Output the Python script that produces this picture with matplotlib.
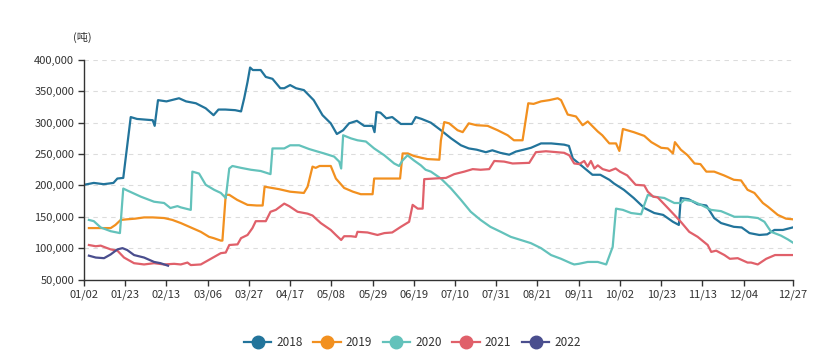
import matplotlib
matplotlib.use("Agg")
import matplotlib.pyplot as plt
from matplotlib.lines import Line2D

plt.rcParams['font.family'] = ['Noto Sans CJK SC', 'DejaVu Sans']

# x = days since 01/02 (category position), values in thousand tonnes
s2018 = [(0,201),(5,204),(10,202),(15,204),(17,211),(20,212),(23.8,309),(27,306),(31,305),
         (35,304),(36,295),(37.7,336),(42,334),(48.4,339),(52,334),(57,331),(62,323),(66,312),
         (68.5,321),(72,321),(77,320),(80,318),(81.6,339),(83.3,365),(84.6,388),(86,384),(90,384),
         (92.6,373),(96,370),(100,355),(102,355),(105,360),(108,355),(112,352),(117,336),
         (121.5,312),(125.7,299),(128.8,282),(132,288),(135,299),(139,303),(142.7,295),(147,295),
         (148,285),(149,317),(151,316),(154,307),(157,309),(161.4,298),(167,298),(169,309),
         (172,306),(176.7,300),(181.8,288),(187,275),(192,264),(196,259),(200,257),(204.7,253),
         (208,256),(212,252),(216.6,249),(220,254),(224,257),(227.7,260),(232.8,267),(238,267),
         (244.6,265),(247,263),(249,243),(254,230),(259,217),(263,217),(267.6,209),(270,203),
         (275,193),(280,180),(285.4,164),(290.5,156),(295,153),(300,142),(303,137),(304,180),
         (308,178),(312.6,170),(317,168),(321,148),(324.5,140),(331,134),(335,133),(339,124),
         (344,121),(348,122),(351.7,129),(356,129),(361,133)]

s2019 = [(2.5,132),(8,132),(13.6,132),(16,137),(18.7,145),(22,146),(26,147),(30.6,149),(35,149),
         (40.8,148),(45,145),(49.3,140),(54.4,133),(59.5,126),(63.7,118),(66,116),(69.7,112),
         (70.5,112),(72.2,185),(74,185),(78,177),(83.3,169),(88,168),(91,168),(92,198),(99.4,194),
         (105,190),(112,188),(113.9,198),(116.4,230),(118,228),(120,231),(125.7,231),(128.3,211),
         (132.5,196),(137,190),(141,186),(147,186),(147.8,211),(154,211),(161,211),(162.3,251),
         (165,251),(168,247),(172,244),(175,242),(181,241),(181.8,272),(183.5,301),(186,299),
         (190.3,288),(192.9,285),(196,299),(200,296),(205.6,295),(210.7,288),(215.8,280),(219,272),
         (223.4,272),(226.3,331),(229,330),(232.8,334),(237,336),(241.3,339),(243,336),
         (246.4,313),(250.6,310),(254,296),(256.6,302),(261.7,286),(264,280),(267.6,267),
         (271,267),(272.7,255),(274.5,290),(280,285),(285.4,279),(289,269),(294,260),(297.4,259),
         (300,251),(301,269),(304,257),(307.5,248),(311,235),(314,234),(317,222),(321,222),
         (326,216),(331,209),(334.7,208),(338,193),(341.5,188),(345.8,172),(348.4,166),
         (353.4,153),(357.6,147),(361,146)]

s2020 = [(2.5,145),(5,143),(8.5,133),(13.6,127),(18.3,124),(20,195),(22,192),(29,182),(35.7,174),
         (40.8,172),(44,164),(47.6,167),(49.3,165),(54.4,161),(55.2,222),(58.6,219),(62,201),
         (66.3,193),(69.7,188),(72.2,180),(74,227),(75.6,231),(80,228),(85,225),(90,223),(95,218),
         (96,259),(102,259),(105,264),(109.6,264),(114.7,258),(119,254),(122.3,251),(127.4,246),
         (130,238),(131,227),(132,280),(136,275),(139.3,272),(143.6,270),(147.8,259),(153,248),
         (158,235),(160.5,231),(162.3,240),(164.8,248),(168,240),(171.6,232),(174,225),
         (176.7,222),(181.8,211),(187,195),(192,177),(197,158),(202,145),(207,134),(212.3,126),
         (217.4,118),(222.5,113),(227.6,108),(232.8,100),(237.9,89),(243,83),(248,76),(249.7,74),
         (252,75),(256.6,78),(261.7,78),(266,74),(269.3,102),(271,163),(274.5,161),(278.7,156),
         (283.8,154),(285.4,169),(287.2,185),(290.5,182),(295.6,180),(300.7,172),(304,172),
         (305.8,177),(310,175),(314.3,169),(319.4,161),(324.5,159),(331.3,150),(338,150),
         (343.3,148),(346.6,142),(350,126),(355,120),(358.5,114),(361,109)]

s2021 = [(2.5,105),(6,103),(8.5,104),(11,101),(13.6,98),(17,96),(20.4,85),(25.5,76),(30.6,74),
         (35.7,76),(40.8,74),(45.9,75),(49.3,74),(52.7,77),(54.4,73),(59.5,74),(62.9,80),(66.3,86),
         (69.7,92),(72.2,93),(74,105),(78.2,106),(80,116),(83.3,121),(85.8,132),(87.5,143),
         (92.6,143),(95,158),(97.7,161),(102,171),(104.5,167),(108.8,158),(113.9,155),(116.4,152),
         (120.6,140),(125.7,129),(128.3,121),(131,113),(132.5,119),(136,119),(138.5,118),
         (139.3,126),(144.4,125),(149.5,121),(153,124),(157,125),(161.4,134),(165.6,142),
         (167.4,169),(170,163),(172.5,163),(173.3,210),(178.4,211),(184.4,212),(188.6,218),
         (193.7,222),(198,226),(202,225),(206.4,226),(209,239),(214,238),(218.3,235),(226.8,236),
         (230.2,253),(235.3,254.5),(244.6,252),(247.2,248),(249.7,235),(252.3,234),(254.8,239),
         (256.5,230),(258.2,239),(260,227),(261.7,232),(264.2,226),(267.6,223),(270.8,227),
         (273,222),(276.7,216),(281,201),(285.4,200),(287.2,190),(290,182),(292.2,181),
         (297.4,164),(300.7,153),(304,142),(308.3,126),(312.6,118),(317.7,105),(319.5,94),
         (322,96),(326.2,89),(329,83),(333,84),(338,77),(339.8,77),(343.2,74),(347.5,83),
         (352,89),(356,89),(361,89)]

s2022 = [(2.5,88),(6,85),(10.2,84),(13.6,90),(17,98),(19.6,100),(22,97),(25.5,89),(30.6,85),
         (35.7,78),(39,76),(42.8,72)]

series_names = ['2018', '2019', '2020', '2021', '2022']
series_data = [s2018, s2019, s2020, s2021, s2022]
colors = ['#22749b', '#f2901f', '#63c2bb', '#e0606a', '#4a4e8e']

tick_days = [0, 21, 42, 63, 84, 105, 126, 147, 168, 189, 210, 231, 252, 273, 294, 315, 336, 361]
tick_labels = ['01/02', '01/23', '02/13', '03/06', '03/27', '04/17', '05/08', '05/29', '06/19',
               '07/10', '07/31', '08/21', '09/11', '10/02', '10/23', '11/13', '12/04', '12/27']
y_ticks = [50000, 100000, 150000, 200000, 250000, 300000, 350000, 400000]

fig = plt.figure(figsize=(8.25, 3.6), dpi=100)
ax = fig.add_axes([84/825, 1-279.5/360, (792.7-84)/825, (279.5-60)/360])

for name, data, c in zip(series_names, series_data, colors):
    xs = [p[0] for p in data]
    ys = [p[1]*1000 for p in data]
    ax.plot(xs, ys, color=c, lw=1.6, solid_joinstyle='round')

ax.set_xlim(0, 361)
ax.set_ylim(50000, 400000)
ax.set_xticks(tick_days)
ax.set_xticklabels(tick_labels)
ax.set_yticks(y_ticks)
ax.set_yticklabels([f'{v:,}' for v in y_ticks])
for v in y_ticks[1:]:
    ax.axhline(v, color='#dcdcdc', lw=0.8, ls=(0, (4, 4)), zorder=0)

for s in ['top', 'right']:
    ax.spines[s].set_visible(False)
for s in ['left', 'bottom']:
    ax.spines[s].set_color('#333333')
    ax.spines[s].set_linewidth(1.0)
ax.tick_params(axis='both', direction='out', length=4, width=1, color='#333333',
               labelsize=8, labelcolor='#333333', pad=3)

fig.text(82/825, 1-37/360, '(吨)', ha='center', va='center', fontsize=8, color='#333333')

handles = [Line2D([0], [0], color=c, lw=1.6, alpha=0.6, marker='o', markersize=9,
                  markerfacecolor=c, markeredgecolor=c) for c in colors]
leg = fig.legend(handles, series_names, loc='center', bbox_to_anchor=(0.5, 1-343/360),
                 ncol=5, frameon=False, fontsize=8.5, handlelength=2.3, handletextpad=0.45,
                 columnspacing=0.9, labelcolor='#333333')
for h in leg.legend_handles:
    h.set_alpha(None)

fig.savefig('out.png', dpi=100)
